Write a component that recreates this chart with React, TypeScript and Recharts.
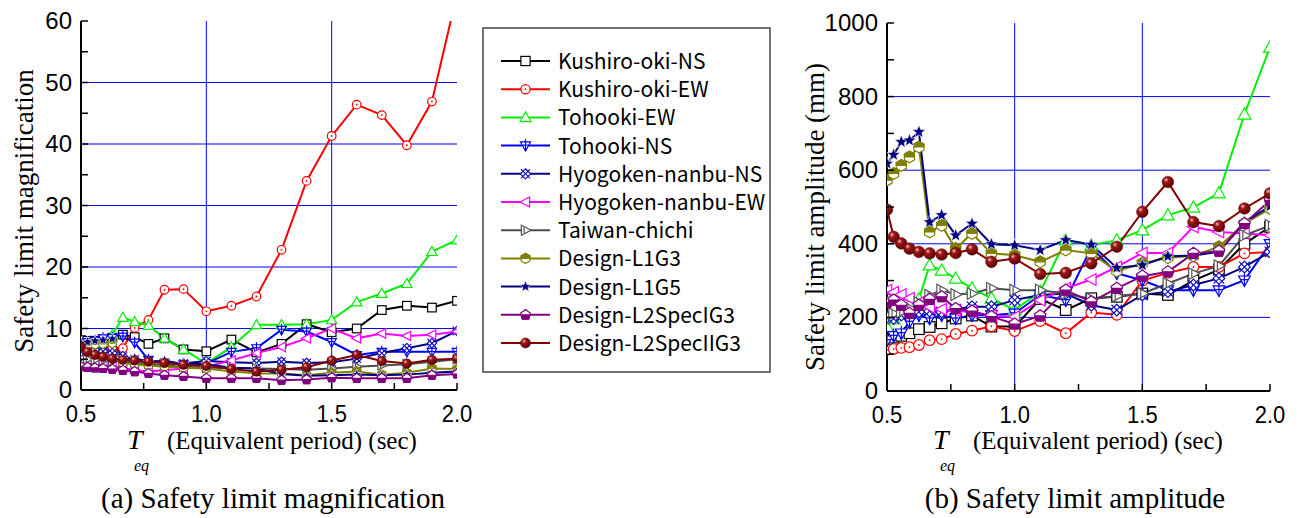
import React from 'react';
import { LineChart, Line, XAxis, YAxis, CartesianGrid } from 'recharts';

// ---------- data ----------
const periods = [0.5, 0.526, 0.556, 0.588, 0.625, 0.667, 0.714, 0.769, 0.833, 0.909, 1.0, 1.1, 1.2, 1.3, 1.4, 1.5, 1.6, 1.7, 1.8, 1.9, 2.0];

const xTicks = [0.5, 0.75, 1.0, 1.25, 1.5, 1.75, 2.0];
const xLabelTicks = [0.5, 1.0, 1.5, 2.0];
const magTicks = [0, 5, 10, 15, 20, 25, 30, 35, 40, 45, 50, 55, 60];
const magLabelTicks = [0, 10, 20, 30, 40, 50, 60];
const magGrid = [10, 20, 30, 40, 50];
const ampTicks = [0, 100, 200, 300, 400, 500, 600, 700, 800, 900, 1000];
const ampLabelTicks = [0, 200, 400, 600, 800, 1000];
const ampGrid = [200, 400, 600, 800];
const xGrid = [1.0, 1.5];

const seriesNames = [
  'Kushiro-oki-NS', 'Kushiro-oki-EW', 'Tohooki-EW', 'Tohooki-NS', 'Hyogoken-nanbu-NS',
  'Hyogoken-nanbu-EW', 'Taiwan-chichi', 'Design-L1G3', 'Design-L1G5', 'Design-L2SpecIG3', 'Design-L2SpecIIG3',
];
const seriesKeys = ['kNS', 'kEW', 'tEW', 'tNS', 'hNS', 'hEW', 'tw', 'l1g3', 'l1g5', 'l2s1', 'l2s2'];
const seriesColors = ['#000000', '#ff0000', '#00ee00', '#0000ff', '#000080', '#ff00ff', '#4d4d4d', '#808000', '#000080', '#800080', '#800000'];
const markerColors = ['#000000', '#ff0000', '#00ee00', '#0000ff', '#1010c0', '#ff00ff', '#555555', '#808000', '#000080', '#800080', '#800000'];
const seriesShapes = ['square', 'circle', 'triUp', 'triDown', 'xDiamond', 'triLeft', 'triRight', 'hexHalf', 'star', 'pentHalf', 'ball'];

// Safety limit magnification
const kushiroNSMag = [8.1, 8.0, 8.0, 8.2, 8.5, 9.0, 8.6, 7.5, 8.4, 6.6, 6.3, 8.2, 6.1, 7.5, 10.7, 9.4, 10.0, 13.0, 13.7, 13.4, 14.5];
const kushiroEWMag = [7.5, 7.2, 7.0, 6.8, 6.6, 6.8, 10.1, 11.4, 16.3, 16.4, 12.8, 13.7, 15.2, 22.8, 34.0, 41.3, 46.4, 44.7, 39.8, 46.9, 64.4];
const tohookiEWMag = [6.5, 7.0, 7.5, 8.0, 9.0, 11.8, 11.1, 10.5, 8.4, 6.6, 4.3, 7.0, 10.6, 10.6, 10.7, 11.4, 14.3, 15.7, 17.3, 22.5, 24.4];
const tohookiNSMag = [7.5, 7.8, 8.0, 8.4, 8.5, 8.7, 7.7, 4.9, 4.4, 4.2, 4.3, 6.2, 6.8, 9.8, 9.5, 7.8, 5.7, 6.2, 6.2, 6.2, 6.2];
const hyogoNSMag = [6.2, 6.5, 6.5, 6.3, 6.0, 5.5, 5.0, 4.7, 4.5, 4.3, 4.7, 4.5, 4.4, 4.6, 4.4, 4.5, 5.1, 6.0, 6.8, 7.6, 9.6];
const hyogoEWMag = [4.5, 4.3, 4.2, 4.0, 3.8, 3.6, 3.2, 3.0, 3.2, 3.5, 3.8, 4.8, 6.0, 7.0, 8.4, 10.0, 8.4, 9.2, 8.8, 9.0, 9.5];
const taiwanMag = [5.2, 5.0, 4.9, 4.8, 4.7, 4.6, 4.5, 4.3, 4.0, 3.8, 3.6, 3.6, 3.5, 3.4, 3.3, 3.5, 3.8, 4.0, 4.2, 4.6, 5.0];
const l1g3Mag = [7.2, 7.3, 7.4, 7.5, 7.6, 4.4, 4.2, 4.0, 3.8, 3.6, 3.5, 3.0, 2.7, 2.7, 2.4, 2.8, 3.0, 2.5, 2.8, 3.5, 3.4];
const l1g5Mag = [7.6, 7.8, 8.0, 8.1, 8.3, 5.0, 5.2, 4.5, 4.8, 4.2, 4.2, 3.6, 3.5, 2.6, 2.3, 2.4, 2.5, 2.4, 2.5, 2.8, 3.0];
const l2s1Mag = [3.8, 3.7, 3.6, 3.5, 3.4, 3.2, 3.0, 2.7, 2.4, 2.2, 1.9, 1.9, 1.9, 1.6, 1.7, 2.0, 1.9, 1.9, 1.9, 2.4, 2.6];
const l2s2Mag = [7.0, 6.2, 5.7, 5.4, 5.1, 4.9, 4.8, 4.6, 4.4, 4.1, 3.9, 3.4, 3.0, 3.3, 3.7, 4.8, 5.7, 4.7, 4.3, 4.9, 5.1];

// Safety limit amplitude (mm)
const kushiroNSAmp = [140, 145, 150, 157, 168, 174, 184, 197, 205, 175, 175, 250, 220, 252, 256, 265, 261, 300, 330, 400, 446];
const kushiroEWAmp = [112, 114, 117, 119, 125, 138, 141, 155, 164, 176, 163, 190, 157, 213, 207, 300, 321, 337, 337, 374, 378];
const tohookiEWAmp = [175, 195, 215, 235, 250, 342, 328, 306, 279, 252, 220, 270, 410, 396, 410, 437, 478, 499, 538, 752, 934];
const tohookiNSAmp = [138, 150, 157, 188, 206, 197, 206, 197, 206, 206, 211, 261, 247, 390, 320, 301, 274, 274, 274, 301, 400];
const hyogoNSAmp = [202, 197, 206, 211, 215, 217, 215, 222, 229, 229, 247, 261, 265, 233, 220, 261, 270, 288, 306, 337, 378];
const hyogoEWAmp = [274, 268, 262, 252, 240, 228, 222, 218, 215, 205, 202, 247, 279, 303, 337, 375, 375, 446, 432, 428, 423];
const taiwanAmp = [205, 210, 215, 225, 240, 260, 274, 262, 265, 279, 274, 274, 265, 250, 258, 265, 292, 319, 340, 423, 450];
const l1g3Amp = [573, 591, 613, 636, 663, 432, 450, 387, 428, 374, 369, 351, 383, 374, 326, 347, 362, 367, 392, 455, 496];
const l1g5Amp = [618, 642, 677, 681, 704, 459, 478, 423, 455, 399, 396, 383, 410, 398, 335, 342, 366, 368, 378, 459, 502];
const l2s1Amp = [240, 247, 233, 211, 233, 249, 256, 224, 217, 202, 182, 204, 274, 242, 279, 312, 324, 374, 380, 455, 518];
const l2s2Amp = [493, 419, 401, 387, 378, 374, 371, 375, 385, 351, 360, 318, 321, 347, 392, 487, 568, 459, 448, 496, 537];

const magValues = [kushiroNSMag, kushiroEWMag, tohookiEWMag, tohookiNSMag, hyogoNSMag, hyogoEWMag, taiwanMag, l1g3Mag, l1g5Mag, l2s1Mag, l2s2Mag];
const ampValues = [kushiroNSAmp, kushiroEWAmp, tohookiEWAmp, tohookiNSAmp, hyogoNSAmp, hyogoEWAmp, taiwanAmp, l1g3Amp, l1g5Amp, l2s1Amp, l2s2Amp];

const buildRows = (vals: number[][]) =>
  periods.map((t, i) => {
    const row: Record<string, number> = { t };
    seriesKeys.forEach((k, j) => { row[k] = vals[j][i]; });
    return row;
  });
const magRows = buildRows(magValues);
const ampRows = buildRows(ampValues);

// ---------- markers ----------
const pts = (arr: number[][]) => arr.map((p) => `${p[0]},${p[1]}`).join(' ');

function Marker({ shape, cx, cy, s, color }: { shape: string; cx: number; cy: number; s: number; color: string }) {
  const sw = 1.2;
  switch (shape) {
    case 'square':
      return <rect x={cx - s} y={cy - s} width={2 * s} height={2 * s} fill="#fff" stroke={color} strokeWidth={sw} />;
    case 'circle':
      return (
        <g>
          <circle cx={cx} cy={cy} r={s} fill="#fff" stroke={color} strokeWidth={sw} />
          <circle cx={cx} cy={cy} r={0.9} fill={color} />
        </g>
      );
    case 'triUp':
      return <polygon points={pts([[cx, cy - 1.2 * s], [cx + 1.2 * s, cy + 0.9 * s], [cx - 1.2 * s, cy + 0.9 * s]])} fill="#fff" stroke={color} strokeWidth={sw} />;
    case 'triDown':
      return (
        <g>
          <polygon points={pts([[cx - 1.1 * s, cy - 0.8 * s], [cx + 1.1 * s, cy - 0.8 * s], [cx, cy + 1.2 * s]])} fill="#fff" stroke={color} strokeWidth={sw} />
          <line x1={cx} x2={cx} y1={cy - 1.4 * s} y2={cy + 1.2 * s} stroke={color} strokeWidth={sw} />
          <line x1={cx - 0.7 * s} x2={cx + 0.7 * s} y1={cy - 0.1 * s} y2={cy - 0.1 * s} stroke={color} strokeWidth={sw} />
        </g>
      );
    case 'xDiamond':
      return (
        <g>
          <polygon points={pts([[cx, cy - 1.1 * s], [cx + 1.1 * s, cy], [cx, cy + 1.1 * s], [cx - 1.1 * s, cy]])} fill="#fff" stroke={color} strokeWidth={sw} />
          <line x1={cx - s} x2={cx + s} y1={cy - s} y2={cy + s} stroke={color} strokeWidth={sw} />
          <line x1={cx - s} x2={cx + s} y1={cy + s} y2={cy - s} stroke={color} strokeWidth={sw} />
        </g>
      );
    case 'triLeft':
      return <polygon points={pts([[cx - 1.2 * s, cy], [cx + 0.9 * s, cy - 1.1 * s], [cx + 0.9 * s, cy + 1.1 * s]])} fill="#fff" stroke={color} strokeWidth={sw} />;
    case 'triRight':
      return (
        <g>
          <polygon points={pts([[cx + 1.2 * s, cy], [cx - 0.9 * s, cy - 1.1 * s], [cx - 0.9 * s, cy + 1.1 * s]])} fill="#fff" stroke={color} strokeWidth={sw} />
          <line x1={cx - 0.3 * s} x2={cx - 0.3 * s} y1={cy - 0.7 * s} y2={cy + 0.7 * s} stroke={color} strokeWidth={sw} />
        </g>
      );
    case 'hexHalf': {
      const a = 0.95 * s;
      const hex = [[cx, cy - 1.1 * s], [cx + a, cy - 0.55 * s], [cx + a, cy + 0.55 * s], [cx, cy + 1.1 * s], [cx - a, cy + 0.55 * s], [cx - a, cy - 0.55 * s]];
      const top = [[cx, cy - 1.1 * s], [cx + a, cy - 0.55 * s], [cx + a, cy], [cx - a, cy], [cx - a, cy - 0.55 * s]];
      return (
        <g>
          <polygon points={pts(hex)} fill="#fff" stroke={color} strokeWidth={sw} />
          <polygon points={pts(top)} fill={color} stroke={color} strokeWidth={sw} />
        </g>
      );
    }
    case 'star': {
      const arr: number[][] = [];
      for (let i = 0; i < 10; i++) {
        const ang = (-90 + i * 36) * Math.PI / 180;
        const r = i % 2 === 0 ? 1.3 * s : 0.55 * s;
        arr.push([cx + r * Math.cos(ang), cy + r * Math.sin(ang)]);
      }
      return <polygon points={pts(arr)} fill={color} stroke="#ffffff" strokeWidth={0.6} />;
    }
    case 'pentHalf': {
      const r = 1.15 * s;
      const pent = [[cx, cy - r], [cx + 0.951 * r, cy - 0.309 * r], [cx + 0.588 * r, cy + 0.809 * r], [cx - 0.588 * r, cy + 0.809 * r], [cx - 0.951 * r, cy - 0.309 * r]];
      const bot = [[cx + 0.851 * r, cy], [cx + 0.588 * r, cy + 0.809 * r], [cx - 0.588 * r, cy + 0.809 * r], [cx - 0.851 * r, cy]];
      return (
        <g>
          <polygon points={pts(pent)} fill="#fff" stroke={color} strokeWidth={sw} />
          <polygon points={pts(bot)} fill={color} stroke={color} strokeWidth={sw} />
        </g>
      );
    }
    case 'ball':
      return <circle cx={cx} cy={cy} r={1.1 * s} fill="url(#ballGrad)" stroke="#5a0000" strokeWidth={0.5} />;
    default:
      return null;
  }
}

// ---------- axes ticks ----------
const AX = '#000000';
const tickFont = 'Liberation Sans, Arial, sans-serif';
const serif = 'Liberation Serif, Times New Roman, serif';

const near = (a: number, list: number[]) => list.some((v) => Math.abs(v - a) < 1e-6);

const makeXTickBottom = () => (p: any) => {
  const v = p.payload.value;
  return (
    <g key={`xb-${v}`}>
      <line x1={p.x} x2={p.x} y1={p.y} y2={p.y - 7} stroke={AX} strokeWidth={1.5} />
      {near(v, xLabelTicks) && (
        <text transform={`translate(${p.x},${p.y + 32}) scale(1,1.1)`} textAnchor="middle" fontFamily={tickFont} fontSize={22} fill="#000">
          {v.toFixed(1)}
        </text>
      )}
    </g>
  );
};
const xTickTop = (p: any) => (
  <line key={`xt-${p.payload.value}`} x1={p.x} x2={p.x} y1={p.y} y2={p.y + 7} stroke={AX} strokeWidth={1.5} />
);
const makeYTickLeft = (labels: number[]) => (p: any) => {
  const v = p.payload.value;
  return (
    <g key={`yl-${v}`}>
      <line x1={p.x} x2={p.x + 7} y1={p.y} y2={p.y} stroke={AX} strokeWidth={1.5} />
      {near(v, labels) && (
        <text x={p.x - 9} y={p.y + 8} textAnchor="end" fontFamily={tickFont} fontSize={24} fill="#000">
          {String(v)}
        </text>
      )}
    </g>
  );
};
const yTickRight = (p: any) => (
  <line key={`yr-${p.payload.value}`} x1={p.x} x2={p.x - 7} y1={p.y} y2={p.y} stroke={AX} strokeWidth={1.5} />
);

// ---------- panel ----------
function Panel(props: {
  rows: Record<string, number>[];
  width: number; height: number;
  margin: { top: number; right: number; bottom: number; left: number };
  yWidth: number; yDomain: [number, number]; yTicks: number[]; yLabels: number[]; yGrid: number[];
  markerSize: number; prefix: string;
}) {
  const { rows, width, height, margin, yWidth, yDomain, yTicks, yLabels, yGrid, markerSize, prefix } = props;
  const axisLine = { stroke: AX, strokeWidth: 2 };
  return (
    <LineChart width={width} height={height} data={rows} margin={margin}>
      <CartesianGrid xAxisId="b" yAxisId="l" horizontalValues={yGrid} verticalValues={xGrid} stroke="#0000ff" strokeWidth={1} fill="none" />
      <XAxis xAxisId="b" dataKey="t" type="number" domain={[0.5, 2.0]} ticks={xTicks} interval={0} allowDataOverflow
        height={40} tickSize={0} tickMargin={0} tickLine={false} axisLine={axisLine} tick={makeXTickBottom()} />
      <XAxis xAxisId="t" orientation="top" dataKey="t" type="number" domain={[0.5, 2.0]} ticks={xTicks} interval={0} allowDataOverflow
        height={0} tickSize={0} tickMargin={0} tickLine={false} axisLine={axisLine} tick={xTickTop} />
      <YAxis yAxisId="l" type="number" domain={yDomain} ticks={yTicks} interval={0} allowDataOverflow
        width={yWidth} tickSize={0} tickMargin={0} tickLine={false} axisLine={axisLine} tick={makeYTickLeft(yLabels)} />
      <YAxis yAxisId="r" orientation="right" type="number" domain={yDomain} ticks={yTicks} interval={0} allowDataOverflow
        width={0} tickSize={0} tickMargin={0} tickLine={false} axisLine={axisLine} tick={yTickRight} />
      {seriesKeys.map((k, j) => (
        <Line
          key={k}
          xAxisId="b"
          yAxisId="l"
          dataKey={k}
          name={seriesNames[j]}
          type="linear"
          stroke={seriesColors[j]}
          strokeWidth={2}
          isAnimationActive={false}
          activeDot={false}
          dot={(d: any) => (
            <g key={`${prefix}-${k}-${d.index}`}>
              {d.cx != null && d.cy != null && (
                <Marker shape={seriesShapes[j]} cx={d.cx} cy={d.cy} s={markerSize} color={markerColors[j]} />
              )}
            </g>
          )}
        />
      ))}
    </LineChart>
  );
}

// ---------- legend + titles overlay ----------
function Overlay() {
  const legendX0 = 483, legendY0 = 28;
  return (
    <svg width={1300} height={518} style={{ position: 'absolute', left: 0, top: 0, pointerEvents: 'none' }}>
      <defs>
        <radialGradient id="ballGrad" cx="35%" cy="32%" r="70%">
          <stop offset="0%" stopColor="#f4c0c0" />
          <stop offset="30%" stopColor="#a01818" />
          <stop offset="100%" stopColor="#5a0000" />
        </radialGradient>
      </defs>
      {/* legend */}
      <rect x={legendX0} y={legendY0} width={287} height={344} fill="#fff" stroke="#444" strokeWidth={1.5} />
      {seriesNames.map((n, j) => {
        const cy = 61 + j * 28.2;
        return (
          <g key={n}>
            <line x1={501} x2={550} y1={cy} y2={cy} stroke={seriesColors[j]} strokeWidth={2} />
            <Marker shape={seriesShapes[j]} cx={525.5} cy={cy} s={4.6} color={markerColors[j]} />
            <text x={558} y={cy + 8} fontFamily="Noto Sans CJK JP, Noto Sans, sans-serif" fontSize={21} fill="#000">{n}</text>
          </g>
        );
      })}
      {/* y titles */}
      <text transform="translate(33,211) rotate(-90)" textAnchor="middle" fontFamily={serif} fontSize={27} fill="#000">Safety limit magnification</text>
      <text transform="translate(824,217) rotate(-90)" textAnchor="middle" fontFamily={serif} fontSize={27} fill="#000">Safety limit amplitude (mm)</text>
      {/* x titles */}
      <text x={127} y={449} fontFamily={serif} fontStyle="italic" fontSize={28} fill="#000">T</text>
      <text x={134} y={471} fontFamily={serif} fontStyle="italic" fontSize={16} fill="#000">eq</text>
      <text x={167} y={449} fontFamily={serif} fontSize={25} fill="#000">(Equivalent period) (sec)</text>
      <text x={933} y={449} fontFamily={serif} fontStyle="italic" fontSize={28} fill="#000">T</text>
      <text x={940} y={471} fontFamily={serif} fontStyle="italic" fontSize={16} fill="#000">eq</text>
      <text x={973} y={449} fontFamily={serif} fontSize={25} fill="#000">(Equivalent period) (sec)</text>
      {/* captions */}
      <text x={273} y={508} textAnchor="middle" fontFamily={serif} fontSize={29} fill="#000">(a) Safety limit magnification</text>
      <text x={1075} y={508} textAnchor="middle" fontFamily={serif} fontSize={29} fill="#000">(b) Safety limit amplitude</text>
    </svg>
  );
}

export default function App() {
  return (
    <div style={{ position: 'absolute', left: 0, top: 0, width: 1300, height: 518, background: '#fff', overflow: 'hidden' }}>
      <div style={{ position: 'absolute', left: 0, top: 0 }}>
        <Panel rows={magRows} width={480} height={440} margin={{ top: 21, right: 23, bottom: 10, left: 0 }}
          yWidth={81} yDomain={[0, 60]} yTicks={magTicks} yLabels={magLabelTicks} yGrid={magGrid} markerSize={4.3} prefix="m" />
      </div>
      <div style={{ position: 'absolute', left: 800, top: 0 }}>
        <Panel rows={ampRows} width={495} height={440} margin={{ top: 23, right: 25, bottom: 9, left: 0 }}
          yWidth={87} yDomain={[0, 1000]} yTicks={ampTicks} yLabels={ampLabelTicks} yGrid={ampGrid} markerSize={5.3} prefix="a" />
      </div>
      <Overlay />
    </div>
  );
}
